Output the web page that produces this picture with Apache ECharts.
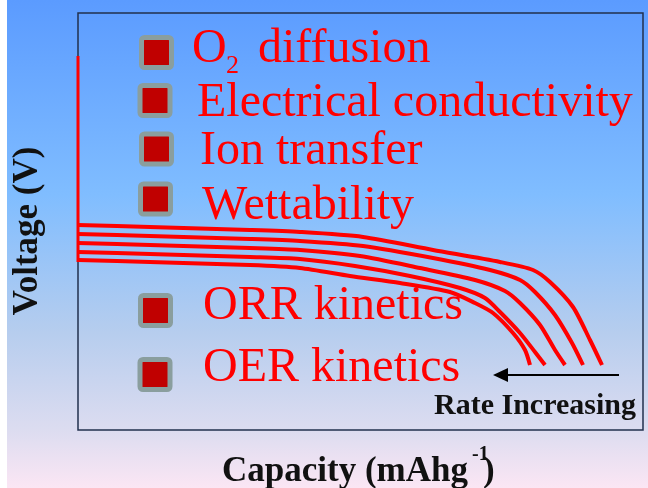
<!DOCTYPE html>
<html>
<head>
<meta charset="utf-8">
<script src="https://cdn.jsdelivr.net/npm/echarts@6/dist/echarts.min.js"></script>
<style>
html,body{margin:0;padding:0;background:#fff;}
#c{width:648px;height:488px;}
</style>
</head>
<body>
<div id="c"></div>
<script>
// Schematic discharge curves (capacity, voltage) in arbitrary units
const chargeLine = [[0, 374], [0, 168]];
const rate1 = [[0,205],[72,203],[172,200],[222,198],[285,193],[355,180],[422,168],[455,160],[472,148],[495,123],[512,90],[524,65]];
const rate2 = [[0,196],[72,194],[172,191],[222,189],[285,184],[355,172],[412,160],[442,150],[457,138],[477,115],[494,87],[505,65]];
const rate3 = [[0,187],[72,185],[172,182],[222,180],[282,174],[342,162],[397,150],[427,139],[442,127],[462,105],[477,80],[487,65]];
const rate4 = [[0,178],[72,176],[172,173],[222,171],[277,164],[332,154],[382,142],[407,132],[422,118],[442,97],[457,78],[467,65]];
const rate5 = [[0,170],[72,168],[172,165],[222,162],[272,154],[322,147],[372,138],[397,127],[415,117],[435,97],[447,80],[452,65]];
const curves = [rate1, rate2, rate3, rate4, rate5];
const factors = ['Electrical conductivity', 'Ion transfer', 'Wettability', 'ORR kinetics', 'OER kinetics'];
const xTitle = 'Capacity (mAhg';
const yTitle = 'Voltage (V)';
const arrowText = 'Rate Increasing';

const serif = "'Liberation Serif','Times New Roman',serif";
const chart = echarts.init(document.getElementById('c'), null, {renderer: 'canvas'});

const squareCenters = [[156.5,52.5],[155,100.5],[156.5,149],[155.5,199],[155.5,310.5],[155,374.5]];
const factorPos = [[197,117],[200,165],[202,220],[203,320],[203,382]];

// place text by its alphabetic baseline (top alignment offset ~0.8em)
function txt(x, base, text, size, opts) {
  opts = opts || {};
  return {type:'text', x:x, y:base - 0.8*size, z:5,
    style:{text:text, font:(opts.bold?'bold ':'')+size+'px '+serif, fill:opts.fill||'#ff0000',
      align:opts.align||'left', verticalAlign:'top'}};
}

const graphics = [
  {type:'rect', shape:{x:0,y:0,width:7,height:488}, style:{fill:'#ffffff'}, z:0}
];
squareCenters.forEach(function(c){
  graphics.push({type:'rect', shape:{x:c[0]-15, y:c[1]-15, width:30, height:30, r:3},
    style:{fill:'#c00000', stroke:'#8a9e9e', lineWidth:5}, z:5});
});
graphics.push(txt(192, 64, 'O', 48));
graphics.push(txt(226, 74, '2', 26));
graphics.push(txt(258, 64, 'diffusion', 48));
factors.forEach(function(t, i){
  graphics.push(txt(factorPos[i][0], factorPos[i][1] + 1, t, 48));
});
// axis titles
graphics.push(txt(468, 482, xTitle, 35, {bold:true, fill:'#111', align:'right'}));
graphics.push(txt(472, 461, '-1', 20, {bold:true, fill:'#111'}));
graphics.push(txt(483, 482, ')', 35, {bold:true, fill:'#111'}));
graphics.push({type:'text', x:28, y:231, rotation:Math.PI/2, z:5,
  style:{text:yTitle, font:'bold 35px '+serif, fill:'#111', align:'center', verticalAlign:'middle'}});
// arrow
graphics.push({type:'line', shape:{x1:505, y1:375, x2:619, y2:375}, style:{stroke:'#000', lineWidth:2}, z:5});
graphics.push({type:'polygon', shape:{points:[[493,375],[508,368],[508,382]]}, style:{fill:'#000'}, z:5});
graphics.push(txt(434, 415, arrowText, 30, {bold:true, fill:'#111'}));

const series = curves.map(function(d){
  return {type:'line', data:d, smooth:0.25, symbol:'none', clip:false, z:3,
    lineStyle:{color:'#ff0000', width:4}};
});
series.push({type:'line', data:chargeLine, symbol:'none', clip:false, z:4,
  lineStyle:{color:'#ff0000', width:3}});

chart.setOption({
  animation:false,
  backgroundColor:{type:'linear', x:0, y:0, x2:0, y2:1, colorStops:[
    {offset:0, color:'#5b9bff'},
    {offset:0.4, color:'#80bdff'},
    {offset:0.68, color:'#b6cdee'},
    {offset:0.88, color:'#dcdcf0'},
    {offset:1, color:'#fbe6f4'}
  ]},
  grid:{left:78, top:13, width:565, height:417, show:true, borderColor:'#22314d', borderWidth:1.5, backgroundColor:'transparent'},
  xAxis:{type:'value', min:0, max:565, show:true, axisLine:{show:false}, axisTick:{show:false}, axisLabel:{show:false}, splitLine:{show:false}},
  yAxis:{type:'value', min:0, max:417, show:true, axisLine:{show:false}, axisTick:{show:false}, axisLabel:{show:false}, splitLine:{show:false}},
  graphic:graphics,
  series:series
});
</script>
</body>
</html>
